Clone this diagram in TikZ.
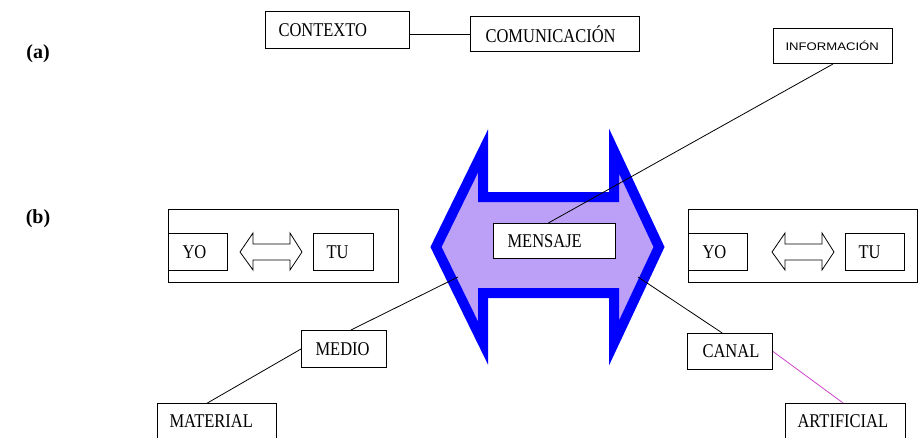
\documentclass[tikz,border=0pt]{standalone}
\usepackage{fontspec}
\setmainfont{Liberation Serif}
\newfontfamily\infofont{Liberation Sans}
\usetikzlibrary{calc}
\definecolor{lav}{RGB}{188,160,248}
\definecolor{mag}{RGB}{204,68,204}
\newcommand\tx[1]{\scalebox{1}[1.18]{#1}}
\begin{document}
\begin{tikzpicture}[x=1pt,y=-1pt,
  box/.style={draw, line width=1pt, fill=white, anchor=north west, align=left,
    inner ysep=1pt, font=\fontsize{16.5}{18}\selectfont},
  frame/.style={draw, line width=1pt, anchor=north west, inner sep=0pt},
  conn/.style={line width=0.8pt, draw=black},
  lab/.style={font=\bfseries\fontsize{20}{22}\selectfont},
  hollow/.style={draw, line width=0.8pt, fill=white},
]
\useasboundingbox (0,0) rectangle (923,437);
\clip (0,0) rectangle (923,437);

% labels
\node[lab] (la) at (38,54) {(a)};
\node[lab] (lb) at (38,219) {(b)};

% (a)
\node[box, inner xsep=13pt, text width=118pt, minimum height=37pt] (ctx) at (265,11) {\tx{CONTEXTO}};
\node[box, inner xsep=15pt, text width=139pt, minimum height=35pt] (com) at (470,16) {\tx{COMUNICACIÓN}};
\draw[conn] (com.west -| ctx.east) -- (com.west);

% big double arrow
\draw[line width=10pt, draw=blue, fill=lav, miter limit=10]
  (436,247) -- (483,151) -- (483,197) -- (614,197) -- (614,151) -- (659,247)
  -- (614,343) -- (614,293) -- (483,293) -- (483,343) -- cycle;
\coordinate (pm) at (458,277);
\coordinate (pc) at (638,277);

% left group
\node[frame, minimum width=230pt, minimum height=73pt] (gl) at (168,209) {};
\node[box, inner xsep=14pt, text width=31pt, minimum height=37pt] (yol) at (168,233) {\tx{YO}};
\node[box, inner xsep=13pt, text width=34pt, minimum height=37pt] (tul) at (313,233) {\tx{TU}};
\draw[hollow] (240,252) -- (253,233) -- (253,244) -- (290,244) -- (290,233) -- (302,252)
  -- (290,270) -- (290,260) -- (253,260) -- (253,270) -- cycle;

% right group
\node[frame, minimum width=229pt, minimum height=73pt] (gr) at (688,209) {};
\node[box, inner xsep=14pt, text width=31pt, minimum height=37pt] (yor) at (688,233) {\tx{YO}};
\node[box, inner xsep=13pt, text width=33pt, minimum height=37pt] (tur) at (845,233) {\tx{TU}};
\draw[hollow] (772,252) -- (785,233) -- (785,244) -- (822,244) -- (822,233) -- (834,252)
  -- (822,270) -- (822,260) -- (785,260) -- (785,270) -- cycle;

% message and others
\node[box, inner xsep=14pt, text width=94pt, minimum height=35pt] (men) at (493,223) {\tx{MENSAJE}};
\node[box, inner xsep=12pt, text width=95pt, minimum height=35pt,
  font=\infofont\fontsize{10.5}{12}\selectfont] (inf) at (773,28) {\scalebox{1.25}[1.05]{INFORMACIÓN}};
\node[box, inner xsep=14pt, text width=57pt, minimum height=37pt] (med) at (301,330) {\tx{MEDIO}};
\node[box, inner xsep=12pt, text width=95pt, minimum height=36pt] (mat) at (157,403) {\tx{MATERIAL}};
\node[box, inner xsep=15pt, text width=55pt, minimum height=36pt] (can) at (687,333) {\tx{CANAL}};
\node[box, inner xsep=12pt, text width=96pt, minimum height=36pt] (art) at (785,403) {\tx{ARTIFICIAL}};

% connectors
\draw[conn] (inf.south) -- ($(men.north west)!0.45!(men.north east)$);
\draw[conn] (pm) -- ($(med.north west)!0.58!(med.north east)$);
\draw[conn] (med.west) -- ($(mat.north west)!0.42!(mat.north east)$);
\draw[conn] (pc) -- ($(can.north west)!0.41!(can.north east)$);
\draw[conn, draw=mag] (can.east) -- ($(art.north west)!0.48!(art.north east)$);
\end{tikzpicture}
\end{document}
